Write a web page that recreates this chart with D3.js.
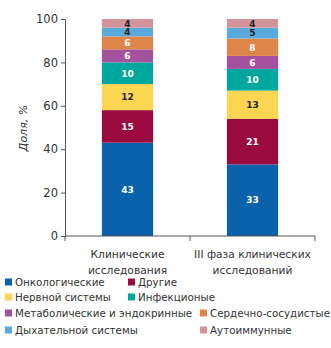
<!DOCTYPE html>
<html>
<head>
<meta charset="utf-8">
<script src="https://cdn.jsdelivr.net/npm/d3@7"></script>
<style>
  body { margin: 0; background: #fff; }
  svg { font-family: "DejaVu Sans", sans-serif; }
</style>
</head>
<body>
<div id="chart"></div>
<script>
const width = 331;
const height = 348;

// data
const groups = ['Клинические\nисследования', 'III фаза клинических\nисследований'];
const series = [
  'Онкологические', 'Другие', 'Нервной системы', 'Инфекционые',
  'Метаболические и эндокринные', 'Сердечно-сосудистые', 'Дыхательной системы', 'Аутоиммунные'
];
const clinical = [43, 15, 12, 10, 6, 6, 4, 4];
const phase3 = [33, 21, 13, 10, 6, 8, 5, 4];
const yTicks = [0, 20, 40, 60, 80, 100];

const colors = ['#0a61ac', '#9a0a3e', '#fdd651', '#00a79c', '#a4529e', '#de8549', '#5aa8dc', '#d3939b'];
const darkText = [false, false, true, false, false, false, true, true];

const margin = { top: 19, left: 65, right: 16 };
const plotBottom = 236;

const svg = d3
  .select('#chart')
  .append('svg')
  .attr('width', width)
  .attr('height', height);

const x = d3
  .scaleBand()
  .domain(groups)
  .range([margin.left, width - margin.right])
  .paddingInner(0.59)
  .paddingOuter(0.295);

const y = d3.scaleLinear().domain([0, 100]).range([plotBottom, margin.top]);

/* Stacked bars
-----------------------------------------------------------------------------*/
const rows = groups.map((g, i) => {
  const vals = i === 0 ? clinical : phase3;
  const row = { group: g };
  series.forEach((s, j) => (row[s] = vals[j]));
  return row;
});

const stacked = d3.stack().keys(series)(rows);

stacked.forEach((layer, j) => {
  const g = svg.append('g');
  layer.forEach((d) => {
    g.append('rect')
      .attr('x', x(d.data.group))
      .attr('y', y(d[1]))
      .attr('width', x.bandwidth())
      .attr('height', y(d[0]) - y(d[1]))
      .attr('fill', colors[j]);
    g.append('text')
      .attr('x', x(d.data.group) + x.bandwidth() / 2)
      .attr('y', (y(d[0]) + y(d[1])) / 2 + 3.3)
      .attr('text-anchor', 'middle')
      .attr('font-size', 9)
      .attr('font-weight', 'bold')
      .attr('fill', darkText[j] ? '#222' : '#fff')
      .text(d[1] - d[0]);
  });
});

/* Axes
-----------------------------------------------------------------------------*/
const yAxis = svg
  .append('g')
  .attr('transform', `translate(${margin.left},0)`)
  .call(d3.axisLeft(y).tickValues(yTicks).tickSize(4).tickPadding(3));

const xAxis = svg
  .append('g')
  .attr('transform', `translate(0,${plotBottom})`);

xAxis
  .append('line')
  .attr('x1', margin.left)
  .attr('x2', width - margin.right)
  .attr('stroke', '#555');

const step = x.step();
[margin.left, margin.left + step, margin.left + step * 2].forEach((tx) => {
  xAxis.append('line').attr('x1', tx).attr('x2', tx).attr('y2', 5).attr('stroke', '#555');
});

yAxis.selectAll('path, line').attr('stroke', '#555');
yAxis
  .selectAll('text')
  .attr('font-size', 11.5)
  .attr('fill', '#333')
  .attr('font-family', '"DejaVu Sans", sans-serif');

groups.forEach((g) => {
  const t = svg
    .append('text')
    .attr('text-anchor', 'middle')
    .attr('font-size', 10.7)
    .attr('fill', '#333');
  g.split('\n').forEach((line, i) => {
    t.append('tspan')
      .attr('x', x(g) + x.bandwidth() / 2)
      .attr('y', 258 + i * 16)
      .text(line);
  });
});

svg
  .append('text')
  .attr('transform', `translate(27,128) rotate(-90)`)
  .attr('text-anchor', 'middle')
  .attr('font-size', 11)
  .attr('font-style', 'italic')
  .attr('fill', '#333')
  .text('Доля, %');

/* Legend
-----------------------------------------------------------------------------*/
const legendX = [5, 128, 5, 128, 5, 200, 5, 200];
const legendY = [282, 282, 297, 297, 313, 313, 330, 330];

series.forEach((s, j) => {
  const lg = svg.append('g').attr('transform', `translate(${legendX[j]},${legendY[j]})`);
  lg.append('rect').attr('x', 0).attr('y', -3.5).attr('width', 7).attr('height', 7).attr('fill', colors[j]);
  lg.append('text')
    .attr('x', 10)
    .attr('y', 4)
    .attr('font-size', 10.3)
    .attr('fill', '#333')
    .text(s);
});
</script>
</body>
</html>
